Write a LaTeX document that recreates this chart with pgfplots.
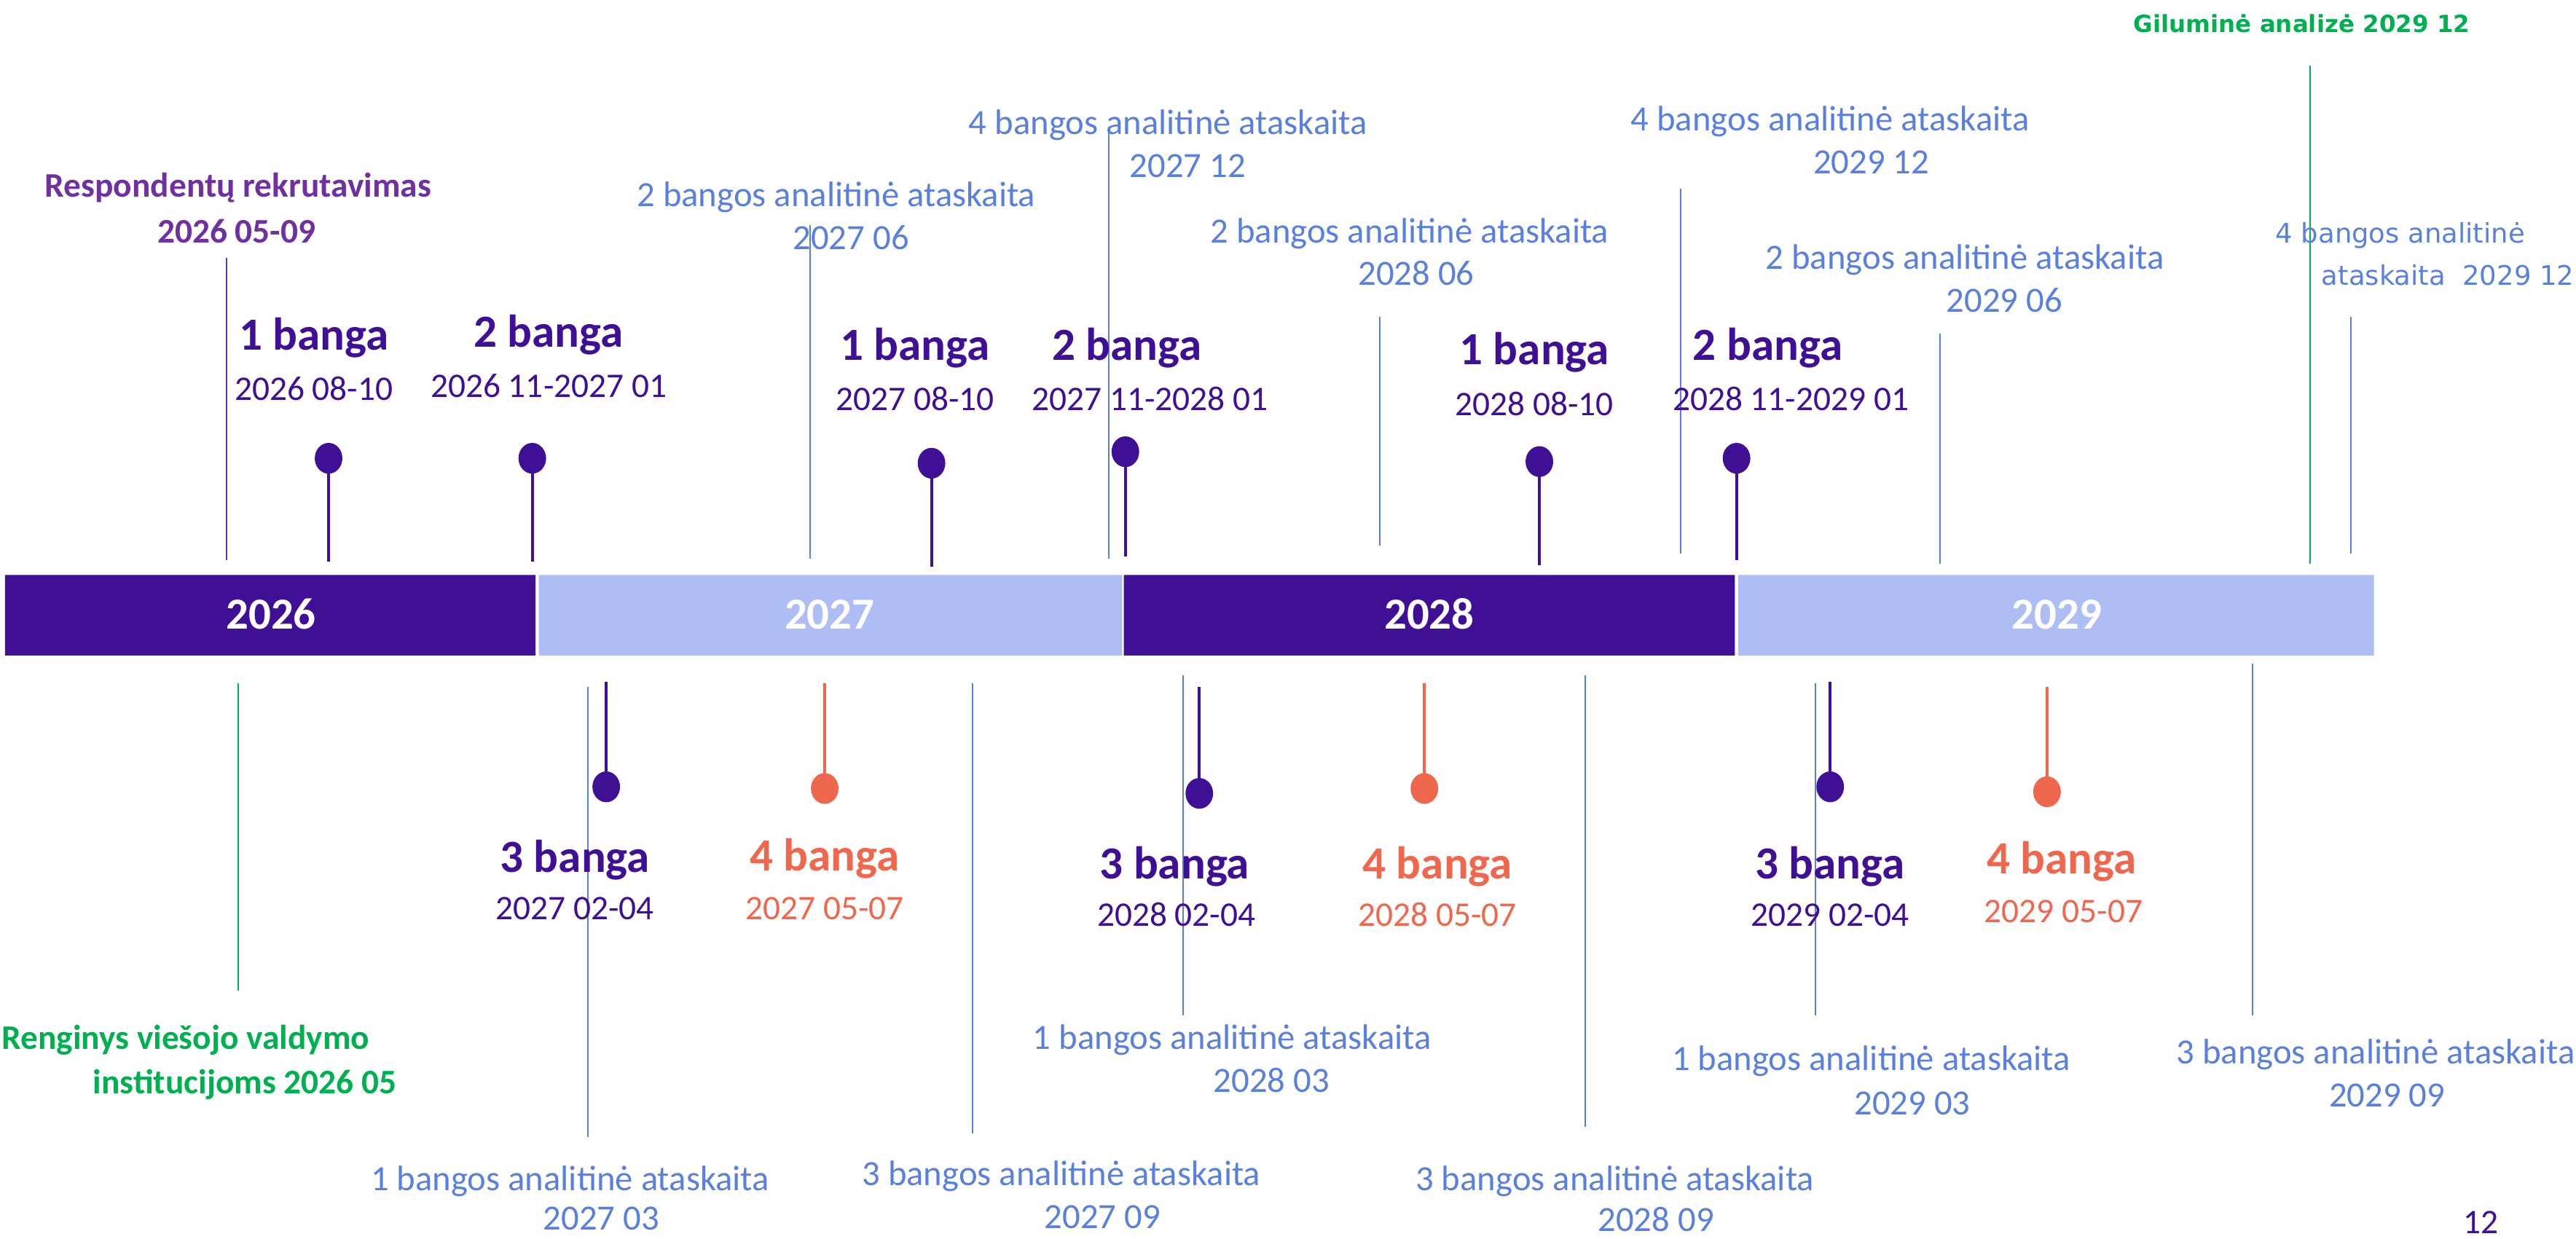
\documentclass[border=0pt]{standalone}
\usepackage{pgfplots}
\pgfplotsset{compat=1.18}
\usepackage{fontspec}
\setmainfont{Carlito}
\newfontfamily\verd{DejaVu Sans}
\definecolor{dkpurple}{RGB}{63,16,150}
\definecolor{ltband}{RGB}{174,190,245}
\definecolor{rptblue}{RGB}{90,128,222}
\definecolor{recpurple}{RGB}{112,48,160}
\definecolor{wave4}{RGB}{239,104,78}
\definecolor{evgreen}{RGB}{0,176,80}

\begin{document}
\begin{tikzpicture}[
  t/.style={anchor=center, text height=0.9em, text depth=0.22em, inner sep=0pt},
  wave/.style={t, text height=0.93em, font=\bfseries\fontsize{14}{16}\selectfont},
  date/.style={t, font=\fontsize{10.5}{12}\selectfont},
  rpt/.style={t, font=\fontsize{10.8}{12}\selectfont, text=rptblue},
  yr/.style={t, font=\bfseries\fontsize{13.5}{15}\selectfont, text=white},
  ev/.style={t, font=\bfseries\fontsize{10.5}{12}\selectfont},
]
\begin{axis}[name=ax, scale only axis, width=784pt, height=377pt,
  xmin=0, xmax=1568, ymin=0, ymax=754, y dir=reverse,
  hide axis, clip=false, unbounded coords=jump]

% year bands
\addplot[fill=dkpurple, draw=none] coordinates {(3,350) (326,350) (326,399) (3,399) (3,350)};
\addplot[fill=ltband, draw=none] coordinates {(328,350) (683,350) (683,399) (328,399) (328,350)};
\addplot[fill=dkpurple, draw=none] coordinates {(684,350) (1056,350) (1056,399) (684,399) (684,350)};
\addplot[fill=ltband, draw=none] coordinates {(1058,350) (1445,350) (1445,399) (1058,399) (1058,350)};

% report lines
\addplot[rptblue, line width=0.4pt] coordinates {
 (493,137) (493,340) (nan,nan) (675,77) (675,340) (nan,nan)
 (840,193) (840,332) (nan,nan) (1023,115) (1023,337) (nan,nan)
 (1181,203) (1181,343) (nan,nan) (1431,193) (1431,337) (nan,nan)
 (358,418) (358,692) (nan,nan) (592,416) (592,690) (nan,nan)
 (720,411) (720,618) (nan,nan) (965,411) (965,686) (nan,nan)
 (1105,416) (1105,618) (nan,nan) (1371,404) (1371,618)};
% events
\addplot[evgreen, line width=0.5pt] coordinates {(1406,40) (1406,343) (nan,nan) (145,416) (145,603)};
\addplot[recpurple, line width=0.4pt] coordinates {(138,157) (138,341)};

% wave stems
\addplot[dkpurple, line width=0.9pt] coordinates {
 (200,279) (200,342) (nan,nan) (324,279) (324,342) (nan,nan)
 (567,282) (567,345) (nan,nan) (685,275) (685,339) (nan,nan)
 (937,281) (937,344) (nan,nan) (1057,279) (1057,341) (nan,nan)
 (369,415) (369,479) (nan,nan) (730,418) (730,483) (nan,nan)
 (1114,415) (1114,479)};
\addplot[wave4, line width=0.9pt] coordinates {
 (502,416) (502,480) (nan,nan) (867,416) (867,480) (nan,nan) (1246,418) (1246,482)};
\addplot[only marks, mark=*, mark size=4pt, dkpurple, mark options={yscale=1.12}] coordinates {
 (200,279) (324,279) (567,282) (685,275) (937,281) (1057,279) (369,479) (730,483) (1114,479)};
\addplot[only marks, mark=*, mark size=4pt, wave4, mark options={yscale=1.12}] coordinates {
 (502,480) (867,480) (1246,482)};

% year labels
\node[yr] at (165,376) {2026};
\node[yr] at (505,376) {2027};
\node[yr] at (870,376) {2028};
\node[yr] at (1252,376) {2029};

% events text
\node[ev, text=recpurple] at (145,113) {Respondentų rekrutavimas};
\node[ev, text=recpurple] at (144,141) {2026 05-09};
\node[ev, text=evgreen] at (113,632) {Renginys viešojo valdymo};
\node[ev, text=evgreen] at (149,659) {institucijoms 2026 05};
\node[t, text=evgreen, font=\verd\bfseries\fontsize{7.2}{9}\selectfont] at (1401,13) {Giluminė analizė 2029 12};

% waves, top
\node[wave, text=dkpurple] at (191,206) {1 banga};
\node[date, text=dkpurple] at (191,237) {2026 08-10};
\node[wave, text=dkpurple] at (334,204) {2 banga};
\node[date, text=dkpurple] at (334,235) {2026 11-2027 01};
\node[wave, text=dkpurple] at (557,212) {1 banga};
\node[date, text=dkpurple] at (557,243) {2027 08-10};
\node[wave, text=dkpurple] at (686,212) {2 banga};
\node[date, text=dkpurple] at (700,243) {2027 11-2028 01};
\node[wave, text=dkpurple] at (934,215) {1 banga};
\node[date, text=dkpurple] at (934,246) {2028 08-10};
\node[wave, text=dkpurple] at (1076,212) {2 banga};
\node[date, text=dkpurple] at (1090,243) {2028 11-2029 01};

% waves, bottom
\node[wave, text=dkpurple] at (350,524) {3 banga};
\node[date, text=dkpurple] at (350,553) {2027 02-04};
\node[wave, text=wave4] at (502,523) {4 banga};
\node[date, text=wave4] at (502,553) {2027 05-07};
\node[wave, text=dkpurple] at (715,528) {3 banga};
\node[date, text=dkpurple] at (716,557) {2028 02-04};
\node[wave, text=wave4] at (875,528) {4 banga};
\node[date, text=wave4] at (875,557) {2028 05-07};
\node[wave, text=dkpurple] at (1114,528) {3 banga};
\node[date, text=dkpurple] at (1114,557) {2029 02-04};
\node[wave, text=wave4] at (1255,525) {4 banga};
\node[date, text=wave4] at (1256,555) {2029 05-07};

% reports, top
\node[rpt] at (509,119) {2 bangos analitinė ataskaita};
\node[rpt] at (518,145) {2027 06};
\node[rpt] at (711,75) {4 bangos analitinė ataskaita};
\node[rpt] at (723,101) {2027 12};
\node[rpt] at (858,141) {2 bangos analitinė ataskaita};
\node[rpt] at (862,167) {2028 06};
\node[rpt] at (1114,73) {4 bangos analitinė ataskaita};
\node[rpt] at (1139,99) {2029 12};
\node[rpt] at (1196,157) {2 bangos analitinė ataskaita};
\node[rpt] at (1220,183) {2029 06};
\node[t, text=rptblue, font=\verd\fontsize{8.2}{10}\selectfont] at (1461,141) {4 bangos analitinė};
\node[t, text=rptblue, font=\verd\fontsize{8.2}{10}\selectfont] at (1490,167) {ataskaita\ \ 2029 12};

% reports, bottom
\node[rpt] at (347,718) {1 bangos analitinė ataskaita};
\node[rpt] at (366,742) {2027 03};
\node[rpt] at (646,715) {3 bangos analitinė ataskaita};
\node[rpt] at (671,741) {2027 09};
\node[rpt] at (750,632) {1 bangos analitinė ataskaita};
\node[rpt] at (774,658) {2028 03};
\node[rpt] at (983,718) {3 bangos analitinė ataskaita};
\node[rpt] at (1008,743) {2028 09};
\node[rpt] at (1139,645) {1 bangos analitinė ataskaita};
\node[rpt] at (1164,672) {2029 03};
\node[rpt] at (1446,641) {3 bangos analitinė ataskaita};
\node[rpt] at (1453,667) {2029 09};

\node[date, text=dkpurple] at (1510,744) {12};
\end{axis}
\pgfresetboundingbox
\path[use as bounding box] (ax.south west) rectangle (ax.north east);
\end{tikzpicture}
\end{document}
